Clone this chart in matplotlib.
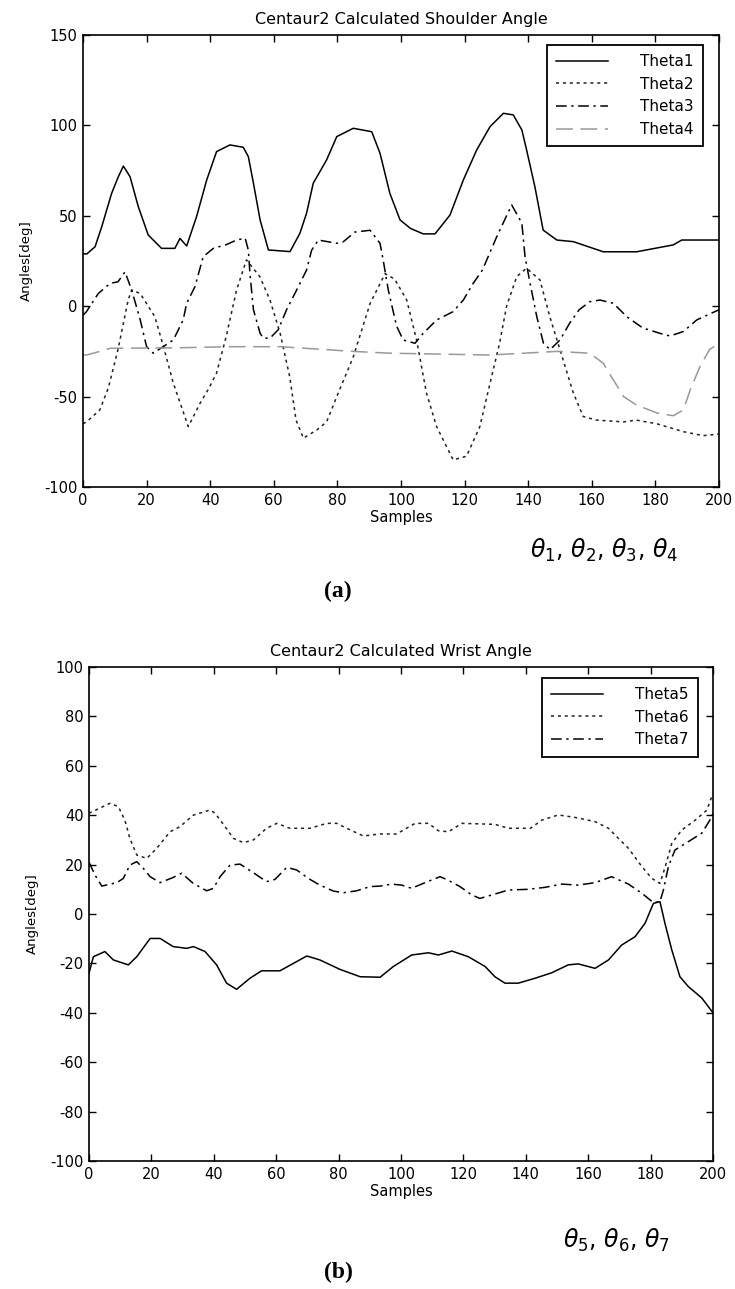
import matplotlib
matplotlib.use("Agg")
import matplotlib.pyplot as plt

# ---------------- data ----------------
# Top chart: shoulder angles
theta1_s = [0, 1.2, 3.8, 5.9, 9, 11.1, 12.7, 14.8, 17.4, 20.5, 24.7, 28.9, 30.5, 32.6, 35.7, 38.9,
            42, 46.2, 50.4, 52, 53.6, 55.7, 58.3, 65.1, 68.2, 70.3, 72.4, 76.6, 79.8, 85, 90.8,
            93.4, 96.5, 99.7, 103, 107, 110.7, 115.4, 119.6, 123.8, 128, 132.2, 135.3, 138, 139.5,
            142.1, 144.7, 149, 154.2, 163.6, 174.1, 185.6, 188.3, 198.7, 200]
theta1_v = [29, 28.9, 32.9, 44, 62.4, 71.6, 77.5, 71.6, 55, 39.4, 32, 32, 37.5, 33.3, 49.5, 69.8,
            85.5, 89.2, 87.9, 82.7, 68, 47.7, 31.1, 30.2, 40.3, 51.4, 68, 80.9, 93.8, 98.4, 96.5,
            84.6, 62.4, 47.7, 43, 40, 40, 50.4, 69.8, 86.4, 99.3, 106.7, 105.8, 97.5, 86.4,
            66.1, 42.1, 36.6, 35.7, 30.1, 30.1, 33.9, 36.6, 36.6, 36.6]

theta2_s = [0, 1.1, 5.3, 8, 11, 14.2, 15.3, 18, 22.6, 25.3, 28.4, 33.1, 36.8, 39.4, 42, 45, 48.3,
            51.4, 55.6, 58.8, 62, 65, 67, 69.3, 73.5, 76.6, 79.8, 85, 90.3, 95, 98, 101.8, 104.9,
            108, 111.2, 116.4, 120.6, 124.8, 128, 131, 133.2, 136.4, 139.5, 143.7, 146.8, 151,
            154.2, 157.3, 161.5, 170, 174, 180.4, 188.8, 195, 200]
theta2_v = [-65, -64, -57.4, -45, -24, 3.4, 9, 7, -5.8, -22.4, -42.5, -66.6, -53.7, -46, -37, -17, 9,
            25.6, 16.4, 3.4, -15, -39, -63, -73, -68.5, -64, -50, -28, 1.6, 18, 15, 3.4, -18.7,
            -48, -66.6, -85, -83, -66.6, -42.6, -20.5, 0, 16.4, 21, 14.5, -5.8, -29.8,
            -48, -61, -63, -64, -63, -65, -69.4, -71.6, -70.7]

theta3_s = [0, 1.1, 4.8, 8.5, 11, 13.2, 15.3, 18, 20, 22.1, 28.4, 31.5, 32.6, 35.2, 37.8, 41, 45,
            48.3, 51, 52, 52.5, 53.6, 55.7, 56.7, 58.8, 61.4, 64, 67.2, 70.3, 71.9, 74, 79.8, 81.9,
            85.5, 90.3, 93.4, 94.4, 96, 98.6, 100.7, 104.4, 107, 111.2, 116.4, 119.6, 122.7,
            125.6, 130, 134.8, 138, 139, 140.6, 142.7, 144.8, 146.9, 150, 153, 156, 159.4, 162.6,
            166.8, 171, 176, 181.4, 184.6, 188.8, 193, 198.7, 200]
theta3_v = [-5, -3, 7, 12.6, 13.5, 19, 9, -7.6, -22.4, -26, -18.7, -7.6, 1.6, 10.8, 27.4, 32, 34,
            36.6, 37.6, 31, 18, -2, -15, -17.7, -17.7, -13, -2, 9, 20, 31, 36.6, 34.8, 35.7,
            41, 42, 34.8, 25.5, 9, -11, -18.7, -20.5, -15, -7.6, -3, 3.4, 12.6,
            20, 38, 56, 46, 27.4, 12.6, -5.8, -20.5, -24, -18.7, -9.5, -2, 2.5, 3.4,
            1.6, -5.8, -12, -15, -16.5, -14, -7.6, -3, -2]

theta4_s = [0, 1.1, 5.3, 8.5, 30, 46, 62, 85, 96.5, 128, 149, 159.4, 163.6, 166.8, 170, 174, 180.4,
            185.6, 188.8, 191, 194, 197, 200]
theta4_v = [-27, -27, -25, -23.3, -23, -22.4, -22.4, -25, -26, -27, -25, -26, -31.6, -40.8, -50,
            -54.6, -59, -60.6, -57.4, -46, -33.5, -24, -20.5]

# Bottom chart: wrist angles
theta5_s = [0, 1.4, 5.1, 7.8, 12.6, 15.3, 19.6, 22.8, 27, 31.3, 33.5, 37.2, 40.9, 44.1, 47.3,
            51.6, 55.3, 61.2, 65.5, 69.8, 74, 80.4, 86.9, 93.3, 97.5, 103.4, 108.8, 112, 116.3,
            121.6, 127, 130.1, 133.3, 137.6, 143, 148.3, 153.6, 156.8, 162.2, 166.5, 170.7, 175,
            178.2, 180.9, 183, 184.6, 186.8, 189.4, 192.1, 196.4, 200]
theta5_v = [-24, -17.3, -15.2, -18.6, -20.6, -17.3, -9.9, -9.9, -13.2, -13.9, -13.2, -15.2, -20.6,
            -28, -30.5, -26, -23, -23, -20, -17, -18.6, -22.4, -25.4, -25.6, -21.3, -16.6, -15.7,
            -16.6, -15, -17.3, -21.3, -25.4, -28, -28, -26, -23.8, -20.6, -20.2, -22, -18.6,
            -12.6, -9.2, -3.8, 4.3, 5, -3.8, -14.6, -25.4, -29.4, -34, -40]

theta6_s = [0, 6.7, 9.4, 11.5, 13.1, 15.3, 18.5, 21.7, 26, 29.2, 33.4, 38.8, 40.4, 43.6, 46.3,
            49.5, 52.7, 56.9, 60.2, 64.4, 70.8, 76.2, 79.4, 82.6, 87.9, 93.3, 98.6, 104.5, 108.8,
            112, 115.2, 119.5, 130.1, 134.4, 141.5, 145.1, 150.4, 155.8, 162.2, 166.5, 169.7,
            172.9, 177.2, 180.4, 183, 184.7, 186.8, 190, 194.3, 198, 200]
theta6_v = [40.8, 44.8, 43.5, 38, 30.6, 23.9, 22.5, 26.6, 33.3, 35.4, 40, 42.1, 40.8, 35.4, 30.6,
            28.9, 30, 34.7, 36.7, 34.7, 34.7, 36.7, 36.7, 34.7, 31.6, 32.4, 32.4, 36.7, 36.7,
            33.7, 33.3, 36.7, 36.3, 34.7, 34.7, 38, 40.1, 39.1, 37.4, 34.7, 30.6,
            26.6, 19.2, 14.4, 12.4, 19.2, 28.6, 34, 38, 42, 48.9]

theta7_s = [0, 1.9, 4.1, 8.9, 11, 13.1, 15.3, 17.4, 19.6, 22.8, 27, 29.7, 33.4, 37.7, 39.9, 42,
            45.2, 48.4, 52.7, 56.9, 59.6, 63.4, 66.6, 70.3, 74, 78.3, 81.5, 85.8, 90.1, 93.3, 97,
            100.2, 103.4, 107.7, 112.5, 114.6, 118.9, 122.7, 125.3, 129.1, 134.4, 140.8, 146.2,
            151.5, 156.8, 162.2, 167.5, 172.9, 177.2, 180.9, 183, 184.1, 185.7, 187.8, 192.1,
            196.4, 199, 200]
theta7_v = [21, 15.8, 11.3, 12.7, 14.4, 19.8, 21.2, 18.5, 15.1, 12.7, 14.8, 16.5, 12.4, 9.4, 10.4,
            15.1, 19.8, 20.2, 16.7, 13.1, 14, 18.9, 17.8, 14.4, 11.7, 9.3, 8.6, 9.4, 11.1, 11.3,
            12.1, 11.7, 10.4, 12.7, 15.1, 14, 11.1, 7.7, 6.3, 7.7, 9.7, 10, 10.8,
            12.1, 11.7, 12.7, 15.1, 12.1, 8.4, 4.6, 5, 9.7, 19.2, 25.9, 29.3,
            32.7, 38, 40.8]

top_labels = ["Theta1", "Theta2", "Theta3", "Theta4"]
bottom_labels = ["Theta5", "Theta6", "Theta7"]
top_title = "Centaur2 Calculated Shoulder Angle"
bottom_title = "Centaur2 Calculated Wrist Angle"
xlabel_text = "Samples"
ylabel_text = "Angles[deg]"
x_ticks = [0, 20, 40, 60, 80, 100, 120, 140, 160, 180, 200]
top_yticks = [-100, -50, 0, 50, 100, 150]
bottom_yticks = [-100, -80, -60, -40, -20, 0, 20, 40, 60, 80, 100]

# ---------------- styling ----------------
plt.rcParams['font.family'] = ['DejaVu Sans']
plt.rcParams['axes.unicode_minus'] = False
W, H = 735, 1289
fig = plt.figure(figsize=(W / 100, H / 100), dpi=100)

def ax_rect(l, r, t, b):
    return [l / W, 1 - b / H, (r - l) / W, (b - t) / H]

styles_top = [
    dict(color='black', lw=1.1, ls='-'),
    dict(color='#222222', lw=1.1, ls=(0, (2, 2.5))),
    dict(color='black', lw=1.1, ls=(0, (7, 3, 1.5, 3))),
    dict(color='#999999', lw=1.1, ls=(0, (11, 5))),
]
styles_bot = styles_top[:3]

def style_axes(ax, yticks, ylim):
    ax.set_xlim(0, 200)
    ax.set_ylim(*ylim)
    ax.set_xticks(x_ticks)
    ax.set_yticks(yticks)
    ax.tick_params(direction='in', length=5, width=1, top=True, right=True,
                   labelsize=10.5, pad=4, colors='black')
    for sp in ax.spines.values():
        sp.set_linewidth(1.2)
    ax.set_xlabel(xlabel_text, fontsize=10.5, labelpad=2)
    ax.set_ylabel(ylabel_text, fontsize=9.5, labelpad=8)

def make_legend(ax, anchor):
    leg = ax.legend(loc='upper right', bbox_to_anchor=anchor,
                    borderaxespad=0, fontsize=11, frameon=True, fancybox=False, framealpha=1,
                    edgecolor='black', handlelength=3.4, handletextpad=2.1, labelspacing=0.5,
                    borderpad=0.6)
    leg.get_frame().set_linewidth(1.3)
    return leg

# ---- top ----
ax1 = fig.add_axes(ax_rect(83, 719, 35, 487))
for s, v, lab, st in zip([theta1_s, theta2_s, theta3_s, theta4_s],
                         [theta1_v, theta2_v, theta3_v, theta4_v], top_labels, styles_top):
    ax1.plot(s, v, label=lab, **st)
style_axes(ax1, top_yticks, (-100, 150))
ax1.set_title(top_title, fontsize=11.5, pad=8)
make_legend(ax1, ((703 - 83) / 636, (487 - 45) / 452))

fig.text(530 / W, 1 - 550 / H, r'$\theta_1$, $\theta_2$, $\theta_3$, $\theta_4$',
         fontsize=17, ha='left', va='center')
fig.text(338 / W, 1 - 591 / H, '(a)', fontsize=17, fontweight='bold',
         family='Liberation Serif', ha='center', va='center')

# ---- bottom ----
ax2 = fig.add_axes(ax_rect(89, 713, 667, 1161))
for s, v, lab, st in zip([theta5_s, theta6_s, theta7_s],
                         [theta5_v, theta6_v, theta7_v], bottom_labels, styles_bot):
    ax2.plot(s, v, label=lab, **st)
style_axes(ax2, bottom_yticks, (-100, 100))
ax2.set_title(bottom_title, fontsize=11.5, pad=8)
make_legend(ax2, ((698 - 89) / 624, (1161 - 678) / 494))

fig.text(563 / W, 1 - 1240 / H, r'$\theta_5$, $\theta_6$, $\theta_7$',
         fontsize=17, ha='left', va='center')
fig.text(338 / W, 1 - 1272 / H, '(b)', fontsize=17, fontweight='bold',
         family='Liberation Serif', ha='center', va='center')

fig.savefig('out.png', dpi=100)
